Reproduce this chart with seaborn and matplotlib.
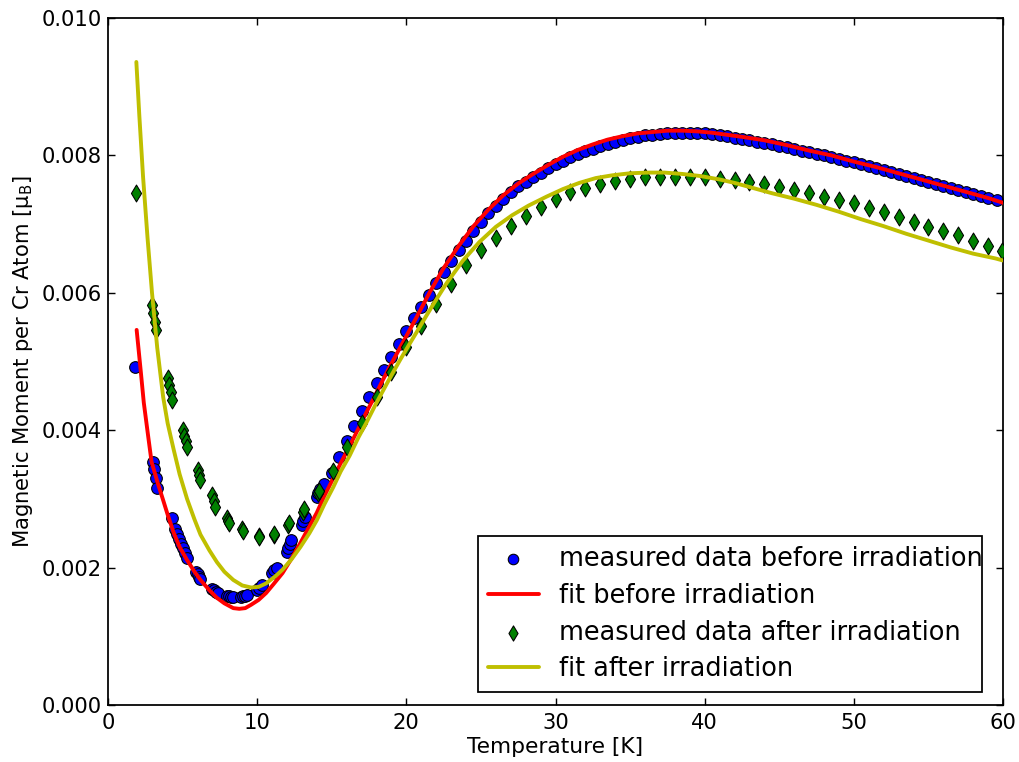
import matplotlib
matplotlib.use("Agg")
import matplotlib.pyplot as plt
from matplotlib.patches import Rectangle
from matplotlib.ticker import FormatStrFormatter, MultipleLocator
import seaborn as sns
import pandas as pd

# ---------------- data ----------------
T_before = [1.8, 3.0, 3.1, 3.2, 3.3, 4.3, 4.5, 4.6, 4.75, 4.9, 5.0, 5.15, 5.3,
            5.9, 6.0, 6.1, 6.2, 7.0, 7.1, 7.25, 7.4, 8.0, 8.1, 8.25, 8.4, 8.9, 9.05,
            9.2, 9.35, 10.0, 10.15, 10.3, 11.0, 11.15, 11.3, 12.0, 12.1, 12.2, 12.3,
            13.0, 13.1, 13.2, 14.0, 14.1, 14.2, 14.5,
            15.0, 15.5, 16.0, 16.5, 17.0, 17.5, 18.0, 18.5, 19.0, 19.5, 20.0, 20.5,
            21.0, 21.5, 22.0, 22.5, 23.0, 23.5, 24.0, 24.5, 25.0, 25.5, 26.0, 26.5,
            27.0, 27.5, 28.0, 28.5, 29.0, 29.5, 30.0, 30.5, 31.0, 31.5, 32.0, 32.5,
            33.0, 33.5, 34.0, 34.5, 35.0, 35.5, 36.0, 36.5, 37.0, 37.5, 38.0, 38.5,
            39.0, 39.5, 40.0, 40.5, 41.0, 41.5, 42.0, 42.5, 43.0, 43.5, 44.0, 44.5,
            45.0, 45.5, 46.0, 46.5, 47.0, 47.5, 48.0, 48.5, 49.0, 49.5, 50.0, 50.5,
            51.0, 51.5, 52.0, 52.5, 53.0, 53.5, 54.0, 54.5, 55.0, 55.5, 56.0, 56.5,
            57.0, 57.5, 58.0, 58.5, 59.0, 59.6]
M_before = [0.00492, 0.00354, 0.00343, 0.00330, 0.00316, 0.00272, 0.00256,
            0.00249, 0.00242, 0.00235, 0.00228, 0.00221, 0.00214, 0.00194, 0.00190,
            0.00187, 0.00184, 0.00169, 0.00167, 0.00165, 0.00163, 0.00159, 0.00158,
            0.00157, 0.00157, 0.00157, 0.00158, 0.00159, 0.00160, 0.00168, 0.00171,
            0.00174, 0.00192, 0.00196, 0.00200, 0.00222, 0.00228, 0.00234, 0.00240,
            0.00262, 0.00268, 0.00274, 0.00303, 0.00309, 0.00315, 0.00322,
            0.00338, 0.00361, 0.00384, 0.00406, 0.00428, 0.00448, 0.00468, 0.00488,
            0.00507, 0.00526, 0.00545, 0.00563, 0.00580, 0.00597, 0.00614, 0.00631,
            0.00647, 0.00662, 0.00676, 0.00690, 0.00703, 0.00716, 0.00727, 0.00737,
            0.00746, 0.00755, 0.00762, 0.00769, 0.00775, 0.00781, 0.00787, 0.00792,
            0.00797, 0.00802, 0.00806, 0.00810, 0.00814, 0.00817, 0.00820, 0.00823,
            0.00825, 0.00827, 0.00829, 0.00830, 0.00831, 0.00832, 0.00833, 0.00833,
            0.00833, 0.00833, 0.00832, 0.00831, 0.00829, 0.00828, 0.00826, 0.00824,
            0.00822, 0.00820, 0.00818, 0.00816, 0.00814, 0.00812, 0.00810, 0.00807,
            0.00805, 0.00802, 0.00800, 0.00797, 0.00795, 0.00792, 0.00790, 0.00787,
            0.00784, 0.00782, 0.00779, 0.00776, 0.00773, 0.00770, 0.00767, 0.00764,
            0.00761, 0.00758, 0.00756, 0.00753, 0.00750, 0.00747, 0.00744, 0.00741,
            0.00738, 0.00735]

T_fit_before = [1.92, 2.2, 2.4, 2.7, 2.92, 3.35, 3.7, 4.0, 4.4, 4.8, 5.3, 5.8, 6.2, 6.8,
                7.3, 7.8, 8.4, 8.8, 9.2, 9.6, 10.1, 10.6, 11.1, 11.7, 12.3, 12.9, 13.5,
                14.0, 14.5, 15.1, 15.6, 16.2, 16.8, 17.3, 17.8, 18.4, 19.0, 19.6, 20.2,
                20.7, 21.6, 22.5, 23.5, 24.5, 25.5, 26.5, 27.5, 28.5, 29.5, 30.5, 31.5,
                32.5, 33.5, 34.5, 35.5, 36.5, 37.5, 38.5, 39.5, 40.5, 41.5, 42.5, 44.0,
                45.5, 47.0, 48.5, 50.0, 51.5, 53.0, 54.5, 56.0, 57.5, 59.0, 60.0]
M_fit_before = [0.00546, 0.00485, 0.00440, 0.00390, 0.00354, 0.00322, 0.00298, 0.00277,
                0.00251, 0.00230, 0.00211, 0.00194, 0.00182, 0.00167, 0.00156, 0.00148,
                0.00141, 0.00140, 0.00141, 0.00146, 0.00153, 0.00163, 0.00176, 0.00192,
                0.00213, 0.00236, 0.00260, 0.00280, 0.00304, 0.00330, 0.00352, 0.00377,
                0.00403, 0.00425, 0.00446, 0.00472, 0.00497, 0.00521, 0.00545, 0.00565,
                0.00602, 0.00636, 0.00668, 0.00697, 0.00721, 0.00742, 0.00759, 0.00773,
                0.00786, 0.00798, 0.00808, 0.00816, 0.00823, 0.00828, 0.00832, 0.00834,
                0.00836, 0.00836, 0.00835, 0.00833, 0.00830, 0.00827, 0.00822, 0.00815,
                0.00807, 0.00800, 0.00791, 0.00783, 0.00774, 0.00765, 0.00756, 0.00747,
                0.00738, 0.00731]

T_after = [1.9, 2.95, 3.05, 3.15, 3.25, 4.0, 4.1, 4.2, 4.3, 5.0, 5.1, 5.2, 5.3,
           6.0, 6.1, 6.2, 7.0, 7.1, 7.2, 8.0, 8.05, 8.1, 9.0, 9.05, 10.1, 10.15,
           11.1, 11.15, 12.1, 12.15, 13.1, 13.15, 14.1, 14.15, 15.1, 16.0, 17.0, 18.0,
           19.0, 20.0, 21.0, 22.0, 23.0, 24.0, 25.0, 26.0, 27.0, 28.0, 29.0, 30.0,
           31.0, 32.0, 33.0, 34.0, 35.0, 36.0, 37.0, 38.0, 39.0, 40.0, 41.0, 42.0,
           43.0, 44.0, 45.0, 46.0, 47.0, 48.0, 49.0, 50.0, 51.0, 52.0, 53.0, 54.0,
           55.0, 56.0, 57.0, 58.0, 59.0, 59.9]
M_after = [0.00745, 0.00582, 0.00570, 0.00558, 0.00546, 0.00476, 0.00466, 0.00455,
           0.00444, 0.00400, 0.00392, 0.00384, 0.00376, 0.00342, 0.00335, 0.00328,
           0.00306, 0.00297, 0.00288, 0.00272, 0.00268, 0.00265, 0.00256, 0.00253,
           0.00246, 0.00244, 0.00247, 0.00249, 0.00262, 0.00265, 0.00281, 0.00285,
           0.00308, 0.00312, 0.00340, 0.00376, 0.00410, 0.00448, 0.00485, 0.00521,
           0.00551, 0.00583, 0.00613, 0.00640, 0.00662, 0.00680, 0.00697, 0.00712,
           0.00725, 0.00736, 0.00746, 0.00753, 0.00759, 0.00763, 0.00766, 0.00768,
           0.00769, 0.00769, 0.00769, 0.00768, 0.00766, 0.00764, 0.00761, 0.00758,
           0.00754, 0.00750, 0.00745, 0.00740, 0.00735, 0.00730, 0.00724, 0.00717,
           0.00710, 0.00703, 0.00696, 0.00690, 0.00684, 0.00676, 0.00668, 0.00661]

T_fit_after = [1.9, 2.1, 2.35, 2.65, 2.95, 3.3, 3.7, 4.0, 4.4, 4.8, 5.3, 5.8, 6.2, 6.8,
               7.3, 7.8, 8.4, 9.0, 9.6, 10.1, 10.6, 11.2, 11.7, 12.3, 12.9, 13.5, 14.0,
               14.5, 15.1, 15.6, 16.2, 16.8, 17.3, 18.0, 18.4, 19.0, 19.6, 20.2, 20.7,
               21.3, 21.8, 22.7, 23.8, 24.9, 26.0, 27.1, 28.2, 29.4, 30.5, 31.6, 32.7,
               33.8, 35.0, 36.2, 37.3, 38.5, 39.7, 41.0, 42.0, 43.0, 44.5, 46.0, 47.5,
               49.0, 50.5, 52.0, 53.5, 55.0, 56.5, 58.0, 59.5, 60.0]
M_fit_after = [0.00936, 0.00858, 0.00769, 0.00680, 0.00600, 0.00520, 0.00448, 0.00410,
               0.00372, 0.00336, 0.00300, 0.00270, 0.00248, 0.00225, 0.00208, 0.00194,
               0.00182, 0.00174, 0.00171, 0.00172, 0.00177, 0.00187, 0.00197, 0.00212,
               0.00230, 0.00250, 0.00269, 0.00292, 0.00317, 0.00340, 0.00363, 0.00390,
               0.00410, 0.00440, 0.00456, 0.00480, 0.00503, 0.00525, 0.00543, 0.00565,
               0.00583, 0.00614, 0.00647, 0.00674, 0.00696, 0.00713, 0.00727, 0.00740,
               0.00751, 0.00760, 0.00767, 0.00771, 0.00774, 0.00775, 0.00775, 0.00773,
               0.00770, 0.00765, 0.00760, 0.00754, 0.00745, 0.00737, 0.00728, 0.00718,
               0.00707, 0.00697, 0.00686, 0.00676, 0.00666, 0.00657, 0.00650, 0.00647]

labels = ["measured data before irradiation", "fit before irradiation",
          "measured data after irradiation", "fit after irradiation"]
x_label = "Temperature [K]"
y_label = r"Magnetic Moment per Cr Atom [$\mathrm{\mu_B}$]"

# ---------------- style ----------------
sns.set_style("white")
plt.rcParams.update({
    "font.family": ["DejaVu Sans"],
    "mathtext.fontset": "dejavusans",
    "text.color": "black",
    "axes.labelcolor": "black",
    "xtick.direction": "in",
    "ytick.direction": "in",
    "xtick.top": True,
    "ytick.right": True,
    "xtick.bottom": True,
    "ytick.left": True,
    "xtick.major.size": 4,
    "ytick.major.size": 4,
    "xtick.major.width": 0.8,
    "ytick.major.width": 0.8,
    "xtick.major.pad": 4.5,
    "ytick.major.pad": 3.5,
    "axes.linewidth": 1.0,
    "axes.edgecolor": "black",
    "xtick.color": "black",
    "ytick.color": "black",
    "xtick.labelcolor": "black",
    "ytick.labelcolor": "black",
    "font.size": 12,
})

W, H = 1019, 762
fig = plt.figure(figsize=(W / 127, H / 127), dpi=127)
ax = fig.add_axes([108 / W, 1 - 705 / H, (1003 - 108) / W, (705 - 18) / H])

df_b = pd.DataFrame({"T": T_before, "M": M_before})
df_fb = pd.DataFrame({"T": T_fit_before, "M": M_fit_before})
df_a = pd.DataFrame({"T": T_after, "M": M_after})
df_fa = pd.DataFrame({"T": T_fit_after, "M": M_fit_after})

sns.scatterplot(data=df_b, x="T", y="M", ax=ax, marker="o", s=44, color=(0, 0, 1),
                edgecolor="black", linewidth=0.6, label=labels[0], zorder=2)
sns.lineplot(data=df_fb, x="T", y="M", ax=ax, color=(1, 0, 0), linewidth=2.2,
             estimator=None, sort=False, label=labels[1], zorder=3)
sns.scatterplot(data=df_a, x="T", y="M", ax=ax, marker="d", s=46, color=(0, 0.5, 0),
                edgecolor="black", linewidth=0.6, label=labels[2], zorder=4)
sns.lineplot(data=df_fa, x="T", y="M", ax=ax, color=(0.75, 0.75, 0), linewidth=2.2,
             estimator=None, sort=False, label=labels[3], zorder=5)

ax.set_xlim(0, 60)
ax.set_ylim(0, 0.010)
ax.xaxis.set_major_locator(MultipleLocator(10))
ax.yaxis.set_major_locator(MultipleLocator(0.002))
ax.yaxis.set_major_formatter(FormatStrFormatter("%.3f"))
ax.tick_params(labelsize=12, colors="black")
ax.set_xlabel(x_label, fontsize=12.3, labelpad=2.5, color="black")
ax.set_ylabel(y_label, fontsize=12, labelpad=4, color="black")
for s in ax.spines.values():
    s.set_visible(True)
    s.set_color("black")

# legend frame (as in the reference, the long label runs up to the frame edge)
frame = Rectangle((478 / W, 1 - 692 / H), (982 - 478) / W, (692 - 536) / H,
                  transform=fig.transFigure, facecolor="white", edgecolor="black",
                  linewidth=1.0, zorder=6)
ax.add_patch(frame)

fs = 14.5
pad_px = 0.38 * fs * 127 / 72
leg = ax.legend(loc="lower right",
                bbox_to_anchor=((983 + pad_px - 108) / 895, (705 - 692) / 687),
                borderaxespad=0, fontsize=fs, markerscale=0.9, frameon=False,
                handlelength=2.0, handletextpad=0.8, labelspacing=0.42,
                borderpad=0.38, labelcolor="black")
leg.set_zorder(7)

fig.savefig("out.png", dpi=127)
